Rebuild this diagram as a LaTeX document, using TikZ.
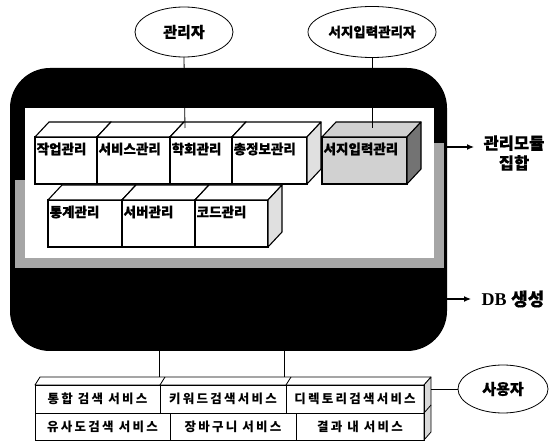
\documentclass[tikz,border=0pt]{standalone}
\usepackage{fontspec}
\newfontfamily\kr{Noto Sans CJK KR}
\newfontfamily\krh{Noto Sans CJK KR}[BoldFeatures={FakeBold=0.6}]
\newfontfamily\dbfont{Liberation Serif}
\usetikzlibrary{arrows.meta,shapes.geometric}
\tikzset{
  actor/.style={ellipse, draw, line width=0.8pt, fill=white, inner sep=0pt, outer sep=0pt,
    font=\krh\bfseries\fontsize{15}{17}\selectfont},
  front/.style={draw, line width=1.1pt, anchor=north west, inner sep=0pt, outer sep=0pt},
  face/.style={draw, line width=1.1pt, line join=round},
  boxlbl/.style={anchor=north west, inner sep=1.5pt, yshift=-4pt, font=\krh\bfseries\fontsize{13.5}{15}\selectfont},
  cell/.style={draw, line width=0.8pt, anchor=north west, inner sep=0pt, outer sep=0pt,
    font=\kr\bfseries\fontsize{12.5}{15}\selectfont\addfontfeature{LetterSpace=18}},
  link/.style={line width=0.8pt},
  outarrow/.style={line width=1.2pt, -{Latex[length=7pt,width=6pt]}},
  side/.style={font=\krh\bfseries\fontsize{16.5}{20}\selectfont, align=center}
}
\newcommand{\mkcube}[8]{% name, x, y, w, h, text, frontfill, sidefill
  \node[front, fill=#7, minimum width=#4pt, minimum height=#5pt,
        label={[boxlbl]north west:#6}] (#1) at (#2,#3) {};
  \draw[face, fill=#7] (#1.north west) -- ++(14,-15) -- ++(#4,0) -- (#1.north east) -- cycle;
  \draw[face, fill=#8] (#1.north east) -- ++(14,-15) -- ++(0,#5) -- (#1.south east) -- cycle;
}
\begin{document}
\begin{tikzpicture}[x=1pt,y=-1pt]
\useasboundingbox (0,0) rectangle (558,441);
% central black frame
\node[fill=black, rounded corners=40pt, minimum width=437pt, minimum height=283pt,
      anchor=north west, inner sep=0pt, outer sep=0pt] (core) at (10,68) {};
\fill[black!35] (15,180) rectangle (25,268);
\fill[black!35] (434,143) rectangle (444,268);
\fill[black!35] (25,258) rectangle (444,268);
\node[fill=white, minimum width=409pt, minimum height=150pt, anchor=north west,
      inner sep=0pt, outer sep=0pt] (panel) at (25,108) {};
% actors
\node[actor, minimum width=98pt, minimum height=50pt] (e1) at (184,32) {관리자};
\node[actor, minimum width=128pt, minimum height=51pt, font=\krh\bfseries\fontsize{13.5}{16}\selectfont] (e2) at (372,32) {서지입력관리자};
\node[actor, minimum width=90pt, minimum height=48pt] (e3) at (503,389) {사용자};
\coordinate (t1) at (185,128);
\coordinate (t2) at (372,128);
% row 1 modules
\mkcube{b1}{35}{137}{62}{47}{작업관리}{white}{black!12}
\mkcube{b2}{97}{137}{73}{47}{서비스관리}{white}{black!12}
\mkcube{b3}{170}{137}{62}{47}{학회관리}{white}{black!12}
\mkcube{b4}{232}{137}{75}{47}{총정보관리}{white}{black!12}
\mkcube{b5}{322}{137}{85}{47}{서지입력관리}{black!18}{black!55}
\draw[link] (e1.south) -- (t1);
\draw[link] (e2.south) -- (t2);
% row 2 modules
\mkcube{c1}{48}{200}{74}{47}{통계관리}{white}{black!12}
\mkcube{c2}{122}{200}{73}{47}{서버관리}{white}{black!12}
\mkcube{c3}{195}{200}{73}{47}{코드관리}{white}{black!12}
% outputs
\coordinate (a1s) at (447,147);
\coordinate (a1e) at (474,147);
\coordinate (a2s) at (447,299);
\coordinate (a2e) at (471,299);
\draw[outarrow] (a1s) -- (a1e);
\draw[outarrow] (a2s) -- (a2e);
\node[side] (m1) at (514,153) {관리모듈\\집합};
\node[inner sep=0pt] (db) at (513,299) {\dbfont\bfseries\fontsize{18}{20}\selectfont DB\ \krh\bfseries 생성};
% service block
\draw[face, line width=0.8pt, fill=white] (35,385) -- (40,377) -- (431,377) -- (424,385) -- cycle;
\draw[link] (160,385) -- (165,377);
\draw[link] (286,385) -- (291,377);
\draw[face, line width=0.8pt, fill=black!15] (424,385) -- (431,377) -- (431,432) -- (424,440) -- cycle;
\draw[link] (424,413) -- (431,405);
\node[cell, minimum width=125pt, minimum height=28pt] (s1) at (35,385) {통합 검색 서비스};
\node[cell, minimum width=126pt, minimum height=28pt] (s2) at (160,385) {키워드검색서비스};
\node[cell, minimum width=138pt, minimum height=28pt] (s3) at (286,385) {디렉토리검색서비스};
\node[cell, minimum width=135pt, minimum height=27pt] (s4) at (35,413) {유사도검색 서비스};
\node[cell, minimum width=126pt, minimum height=27pt] (s5) at (170,413) {장바구니 서비스};
\node[cell, minimum width=128pt, minimum height=27pt] (s6) at (296,413) {결과 내 서비스};
\coordinate (st1) at (159,377);
\coordinate (st2) at (284,377);
\draw[link] (core.south -| st1) -- (st1);
\draw[link] (core.south -| st2) -- (st2);
\coordinate (sd) at (431,389);
\draw[link] (sd) -- (e3.west);
\end{tikzpicture}
\end{document}
